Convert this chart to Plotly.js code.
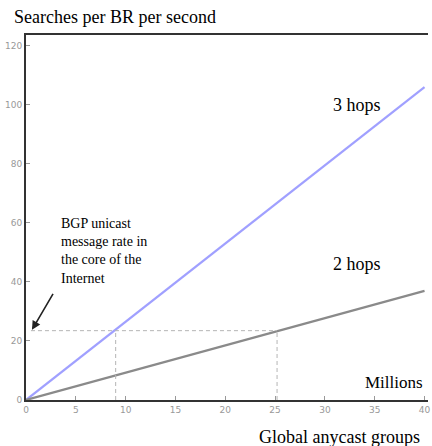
<!DOCTYPE html>
<html>
<head>
<meta charset="utf-8">
<script src="https://cdn.plot.ly/plotly-3.0.1.min.js"></script>
<style>html,body{margin:0;padding:0;background:#fff;}#chart{width:432px;height:446px;}</style>
</head>
<body>
<div id="chart"></div>
<script>
// Data (millions of global anycast groups -> searches per BR per second)
const groups = [0, 10, 20, 30, 40];
const threeHops = [0, 26.5, 53, 79.5, 106];
const twoHops = [0, 9.3, 18.5, 27.8, 37];
const bgpRate = 23.5;           // BGP unicast message rate
const cross3 = 9.0;             // groups where 3 hops reaches BGP rate
const cross2 = 25.2;            // groups where 2 hops reaches BGP rate
const xTicks = [0, 5, 10, 15, 20, 25, 30, 35, 40];
const yTicks = [0, 20, 40, 60, 80, 100, 120];

const serif = "Liberation Serif, Times New Roman, serif";

const traces = [
  {x: groups, y: threeHops, mode: 'lines', line: {color: '#a0a0ff', width: 2.2}, hoverinfo: 'skip'},
  {x: groups, y: twoHops, mode: 'lines', line: {color: '#8a8a8a', width: 2.2}, hoverinfo: 'skip'}
];

const dash = {color: '#b5b5b5', width: 1, dash: '4px,3px'};
const shapes = [
  {type: 'line', xref: 'x', yref: 'y', x0: 0.5, x1: cross2, y0: bgpRate, y1: bgpRate, line: dash},
  {type: 'line', xref: 'x', yref: 'y', x0: cross3, x1: cross3, y0: 0, y1: bgpRate, line: dash},
  {type: 'line', xref: 'x', yref: 'y', x0: cross2, x1: cross2, y0: 0, y1: bgpRate, line: dash}
];

const annotations = [
  {xref: 'paper', yref: 'paper', x: -0.036, y: 1.0, yshift: 18, xanchor: 'left', yanchor: 'middle',
   text: 'Searches per BR per second', showarrow: false, font: {family: serif, size: 18, color: '#000'}},
  {xref: 'paper', yref: 'paper', x: 0.985, y: 0, yshift: -37, xanchor: 'right', yanchor: 'middle',
   text: 'Global anycast groups', showarrow: false, font: {family: serif, size: 18, color: '#000'}},
  {xref: 'x', yref: 'y', x: 40, y: 2, xanchor: 'right', yanchor: 'bottom',
   text: 'Millions', showarrow: false, font: {family: serif, size: 17, color: '#000'}},
  {xref: 'x', yref: 'y', x: 30.6, y: 100, xanchor: 'left', yanchor: 'middle',
   text: '3 hops', showarrow: false, font: {family: serif, size: 18, color: '#000'}},
  {xref: 'x', yref: 'y', x: 30.6, y: 46, xanchor: 'left', yanchor: 'middle',
   text: '2 hops', showarrow: false, font: {family: serif, size: 18, color: '#000'}},
  {xref: 'x', yref: 'y', x: 3.3, y: 63, xanchor: 'left', yanchor: 'top', align: 'left',
   text: 'BGP unicast<br>message rate in<br>the core of the<br>Internet', showarrow: false,
   font: {family: serif, size: 14, color: '#000'}},
  {xref: 'x', yref: 'y', x: 0.6, y: bgpRate + 0.3, ax: 2.8, ay: 36.5, axref: 'x', ayref: 'y',
   text: '', showarrow: true, arrowhead: 2, arrowsize: 1.1, arrowwidth: 1.6, arrowcolor: '#222'}
];

const layout = {
  width: 432, height: 446,
  margin: {l: 26, r: 4, t: 35, b: 46, pad: 0},
  paper_bgcolor: '#fff', plot_bgcolor: '#fff',
  showlegend: false,
  xaxis: {
    range: [0, 40.35], tickvals: xTicks, ticktext: xTicks.map(String),
    ticks: 'inside', ticklen: 4, tickcolor: '#999', tickwidth: 1,
    showgrid: false, zeroline: false,
    showline: true, linecolor: '#333', linewidth: 2, mirror: true,
    tickfont: {family: 'DejaVu Sans, sans-serif', size: 9, color: '#999'}
  },
  yaxis: {
    range: [0, 123.7], tickvals: yTicks, ticktext: yTicks.map(String),
    ticks: 'inside', ticklen: 4, tickcolor: '#999', tickwidth: 1,
    showgrid: false, zeroline: false,
    showline: true, linecolor: '#333', linewidth: 2, mirror: false,
    tickfont: {family: 'DejaVu Sans, sans-serif', size: 9, color: '#999'}
  },
  shapes: shapes,
  annotations: annotations
};

Plotly.newPlot('chart', traces, layout, {staticPlot: true, displayModeBar: false});
</script>
</body>
</html>
